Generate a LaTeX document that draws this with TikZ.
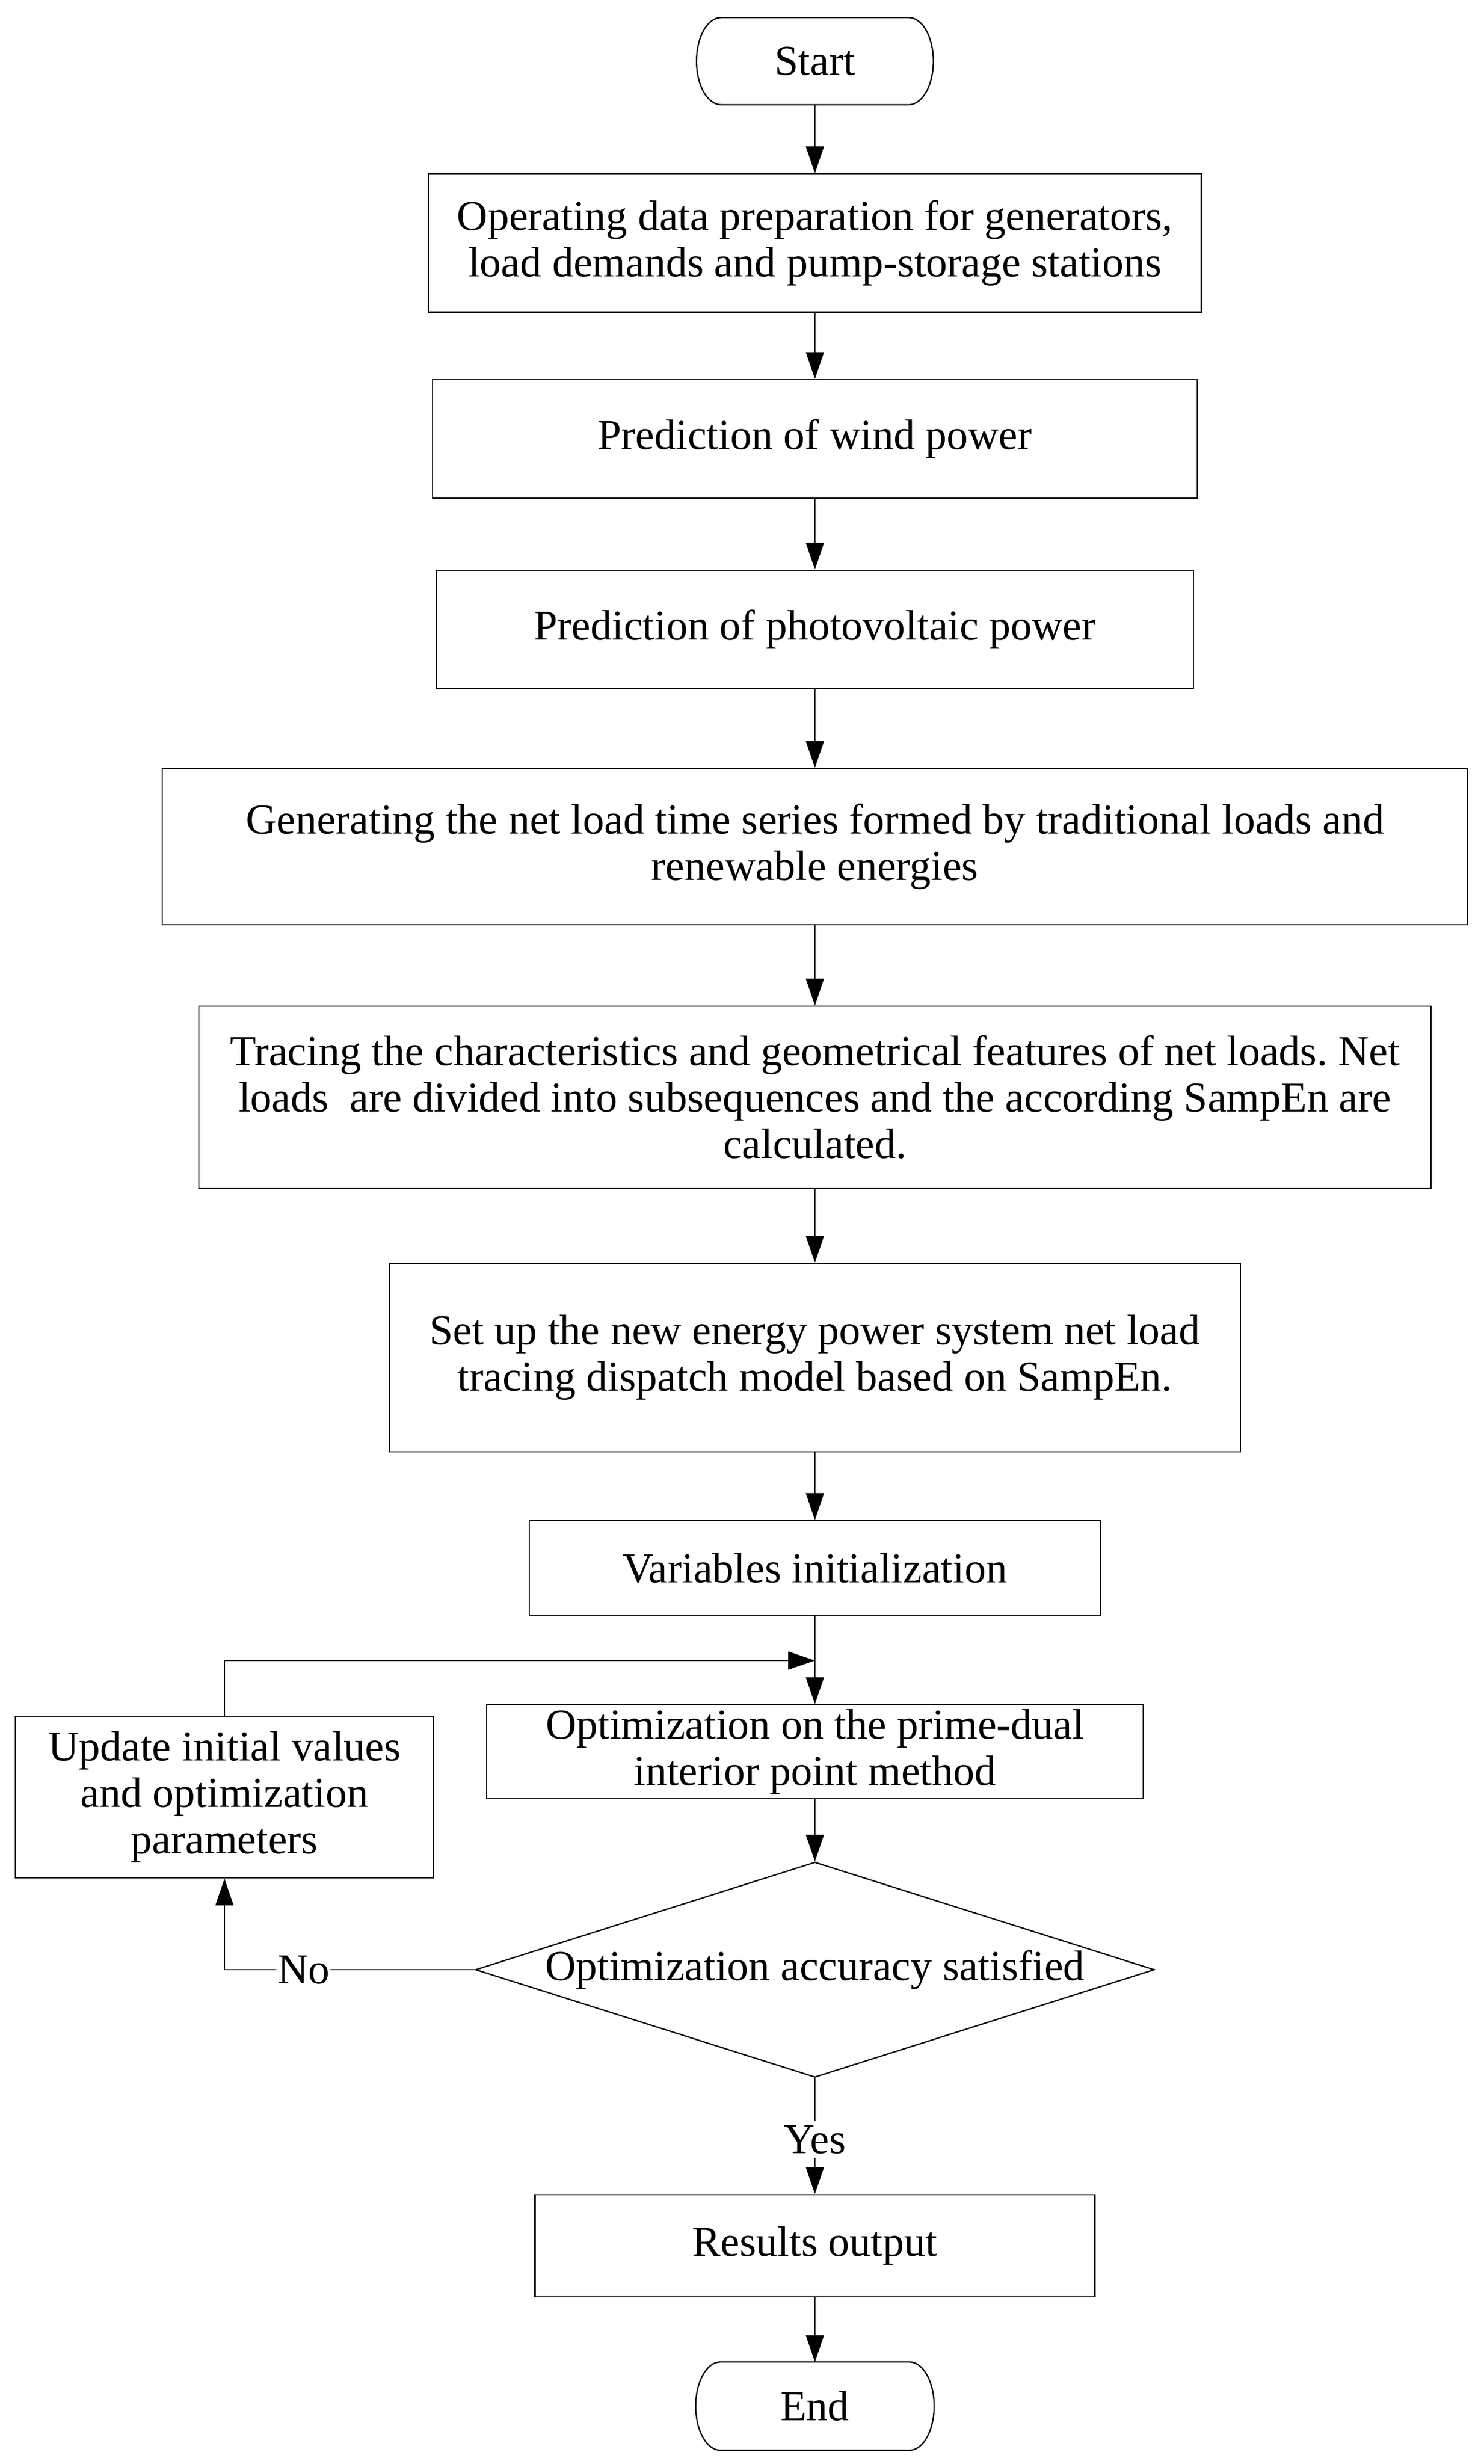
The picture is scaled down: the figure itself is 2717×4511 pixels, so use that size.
\documentclass[tikz,border=0pt]{standalone}
\usepackage{fontspec}
\setmainfont{Liberation Serif}
\frenchspacing
\usetikzlibrary{arrows.meta,shapes.geometric,calc}
\newcommand\termshape[1]{%
  \draw[line width=0.6pt]
    ($(#1.north west)+(45,0)$) -- ($(#1.north east)+(-45,0)$)
    .. controls ($(#1.north east)+(-20,0)$) and ($(#1.east)+(0,-44)$) .. (#1.east)
    .. controls ($(#1.east)+(0,44)$) and ($(#1.south east)+(-20,0)$) .. ($(#1.south east)+(-45,0)$)
    -- ($(#1.south west)+(45,0)$)
    .. controls ($(#1.south west)+(20,0)$) and ($(#1.west)+(0,44)$) .. (#1.west)
    .. controls ($(#1.west)+(0,-44)$) and ($(#1.north west)+(20,0)$) .. ($(#1.north west)+(45,0)$) -- cycle;}
\begin{document}
\begin{tikzpicture}[x=0.25pt,y=-0.25pt,
  every node/.style={font=\fontsize{19.5}{21.25}\selectfont, align=center, inner sep=0pt},
  box/.style={draw, line width=0.65pt, rectangle},
  con/.style={line width=0.5pt, -{Triangle[length=12.25pt,width=8.25pt]}},
  plainline/.style={line width=0.5pt},
  lbl/.style={fill=white, inner xsep=0.5pt, inner ysep=2pt}
]
\useasboundingbox (0,0) rectangle (2717,4511);

\node[minimum width=108pt, minimum height=39.5pt] (start) at (1492,112) {Start};
\termshape{start}

\node[box, minimum width=353.75pt, minimum height=63.25pt] (b1) at (1492,445)
  {Operating data preparation for generators,\\load demands and pump-storage stations};
\node[box, minimum width=350pt, minimum height=54.25pt] (b2) at (1492,803.5)
  {Prediction of wind power};
\node[box, minimum width=346.5pt, minimum height=54pt] (b3) at (1492,1152)
  {Prediction of photovoltaic power};
\node[box, minimum width=597.5pt, minimum height=71.5pt] (b4) at (1492,1550)
  {Generating the net load time series formed by traditional loads and\\renewable energies};
\node[box, minimum width=564pt, minimum height=83.5pt] (b5) at (1492,2009)
  {Tracing the characteristics and geometrical features of net loads. Net\\loads\ \ are divided into subsequences and the according SampEn are\\calculated.};
\node[box, minimum width=389.5pt, minimum height=86.25pt] (b6) at (1492,2485.5)
  {Set up the new energy power system net load\\tracing dispatch model based on SampEn.};
\node[box, minimum width=261.5pt, minimum height=43.25pt] (b7) at (1492,2870.5)
  {Variables initialization};
\node[box, minimum width=300.5pt, minimum height=43pt] (b8) at (1492,3207)
  {Optimization on the prime-dual\\interior point method};
\node[box, minimum width=191.5pt, minimum height=74pt] (upd) at (411,3290)
  {Update initial values\\and optimization\\parameters};
\node[draw, diamond, line width=0.6pt, aspect=3.155, minimum width=310.75pt, minimum height=98.5pt,
  label={center:Optimization accuracy satisfied}] (dia) at (1492,3606) {};
\node[box, minimum width=256.25pt, minimum height=46.75pt] (res) at (1492,4111.5)
  {Results output};
\node[minimum width=108.75pt, minimum height=40pt] (end) at (1492,4405) {End};
\termshape{end}

\coordinate (j) at (1492,3040);

\draw[con] (start) -- (b1);
\draw[con] (b1) -- (b2);
\draw[con] (b2) -- (b3);
\draw[con] (b3) -- (b4);
\draw[con] (b4) -- (b5);
\draw[con] (b5) -- (b6);
\draw[con] (b6) -- (b7);
\draw[plainline] (b7) -- (j);
\draw[con] (j) -- (b8);
\draw[con] (upd.north) |- (j);
\draw[con] (b8) -- (dia);
\draw[con] (dia.west) -- node[lbl, pos=0.684] {No} (dia.west -| upd.south) -- (upd.south);
\draw[con] (dia) -- node[lbl, pos=0.53] {Yes} (res);
\draw[con] (res) -- (end);
\end{tikzpicture}
\end{document}
